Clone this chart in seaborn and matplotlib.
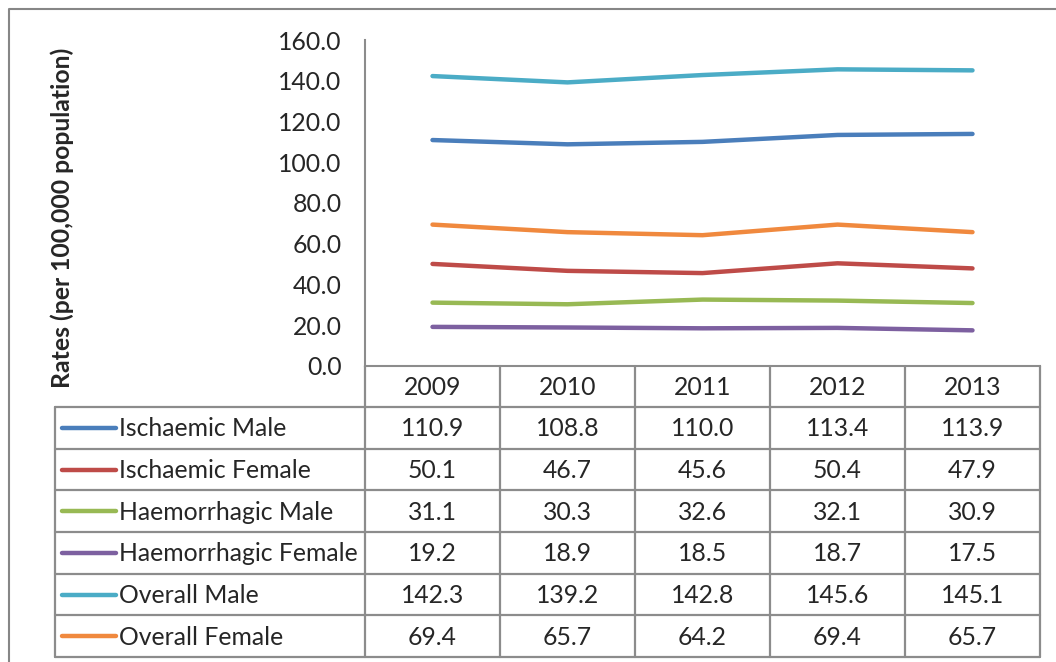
import numpy as np
import pandas as pd
import matplotlib
matplotlib.use("Agg")
import matplotlib.pyplot as plt
import seaborn as sns

years = ["2009", "2010", "2011", "2012", "2013"]
series = ["Ischaemic Male", "Ischaemic Female", "Haemorrhagic Male",
          "Haemorrhagic Female", "Overall Male", "Overall Female"]
ischaemic_male = [110.9, 108.8, 110.0, 113.4, 113.9]
ischaemic_female = [50.1, 46.7, 45.6, 50.4, 47.9]
haemorrhagic_male = [31.1, 30.3, 32.6, 32.1, 30.9]
haemorrhagic_female = [19.2, 18.9, 18.5, 18.7, 17.5]
overall_male = [142.3, 139.2, 142.8, 145.6, 145.1]
overall_female = [69.4, 65.7, 64.2, 69.4, 65.7]
colors = ["#4A7EBB", "#BE4B48", "#98B954", "#7D60A0", "#4BACC6", "#F0893E"]

values = [ischaemic_male, ischaemic_female, haemorrhagic_male,
          haemorrhagic_female, overall_male, overall_female]

rows = []
for name, vals in zip(series, values):
    for i, v in enumerate(vals):
        rows.append({"series": name, "pos": i, "year": years[i], "rate": v})
df = pd.DataFrame(rows)

sns.set_style("white")
plt.rcParams['font.family'] = ['Lato', 'DejaVu Sans']
FS = 17.8
grid_c = "#8C8C8C"

W, H = 1056, 662
fig = plt.figure(figsize=(W / 100, H / 100), dpi=100)

# plot area
x0, x1, ytop, ybot = 365, 1040, 40, 366
ax = fig.add_axes([x0 / W, 1 - ybot / H, (x1 - x0) / W, (ybot - ytop) / H])
sns.lineplot(data=df, x="pos", y="rate", hue="series", palette=colors,
             hue_order=series, linewidth=3.2, legend=False, ax=ax,
             solid_capstyle="round")
ax.set_xlim(-0.5, len(years) - 0.5)
ax.set_ylim(0, 160)
ax.set_yticks(np.arange(0, 161, 20))
ax.set_yticklabels([f"{t:.1f}" for t in np.arange(0, 161, 20)], fontsize=FS)
ax.set_xticks([])
ax.tick_params(axis="y", length=0, pad=17)
ax.set_xlabel("")
ax.set_ylabel("")
for s in ["top", "right"]:
    ax.spines[s].set_visible(False)
for s in ["left", "bottom"]:
    ax.spines[s].set_color(grid_c)
    ax.spines[s].set_linewidth(1.5)

fig.text(62 / W, 1 - 218 / H, "Rates (per 100,000 population)", rotation=90,
         fontsize=FS, fontweight="bold", ha="center", va="center")

# data table overlay in pixel coords
tab = fig.add_axes([0, 0, 1, 1])
tab.set_xlim(0, W)
tab.set_ylim(H, 0)
tab.axis("off")
tab.patch.set_alpha(0)

# outer chart frame
tab.plot([9, 9, W + 5], [H + 5, 9, 9], color="#868686", lw=1.5)

col_edges = np.linspace(x0, x1, len(years) + 1)
row_edges = np.linspace(407, 657, len(series) + 1)
left = 55
lw = 1.6
# header row
tab.plot([x0, x0], [ybot, 407], color=grid_c, lw=lw)
for xe in col_edges[1:]:
    tab.plot([xe, xe], [ybot, 657], color=grid_c, lw=lw)
tab.plot([left, left], [407, 657], color=grid_c, lw=lw)
tab.plot([x0, x0], [407, 657], color=grid_c, lw=lw)
for ye in row_edges:
    tab.plot([left, x1], [ye, ye], color=grid_c, lw=lw)

centers = (col_edges[:-1] + col_edges[1:]) / 2
for xc, yr in zip(centers, years):
    tab.text(xc, (ybot + 407) / 2 + 1, yr, ha="center", va="center", fontsize=FS)

for r, (name, vals, c) in enumerate(zip(series, values, colors)):
    yc = (row_edges[r] + row_edges[r + 1]) / 2
    tab.plot([62, 116], [yc, yc], color=c, lw=3.2, solid_capstyle="round")
    tab.text(119, yc + 1, name, ha="left", va="center", fontsize=FS)
    for xc, v in zip(centers, vals):
        tab.text(xc, yc + 1, f"{v:.1f}", ha="center", va="center", fontsize=FS)

fig.savefig("out.png", dpi=100)
